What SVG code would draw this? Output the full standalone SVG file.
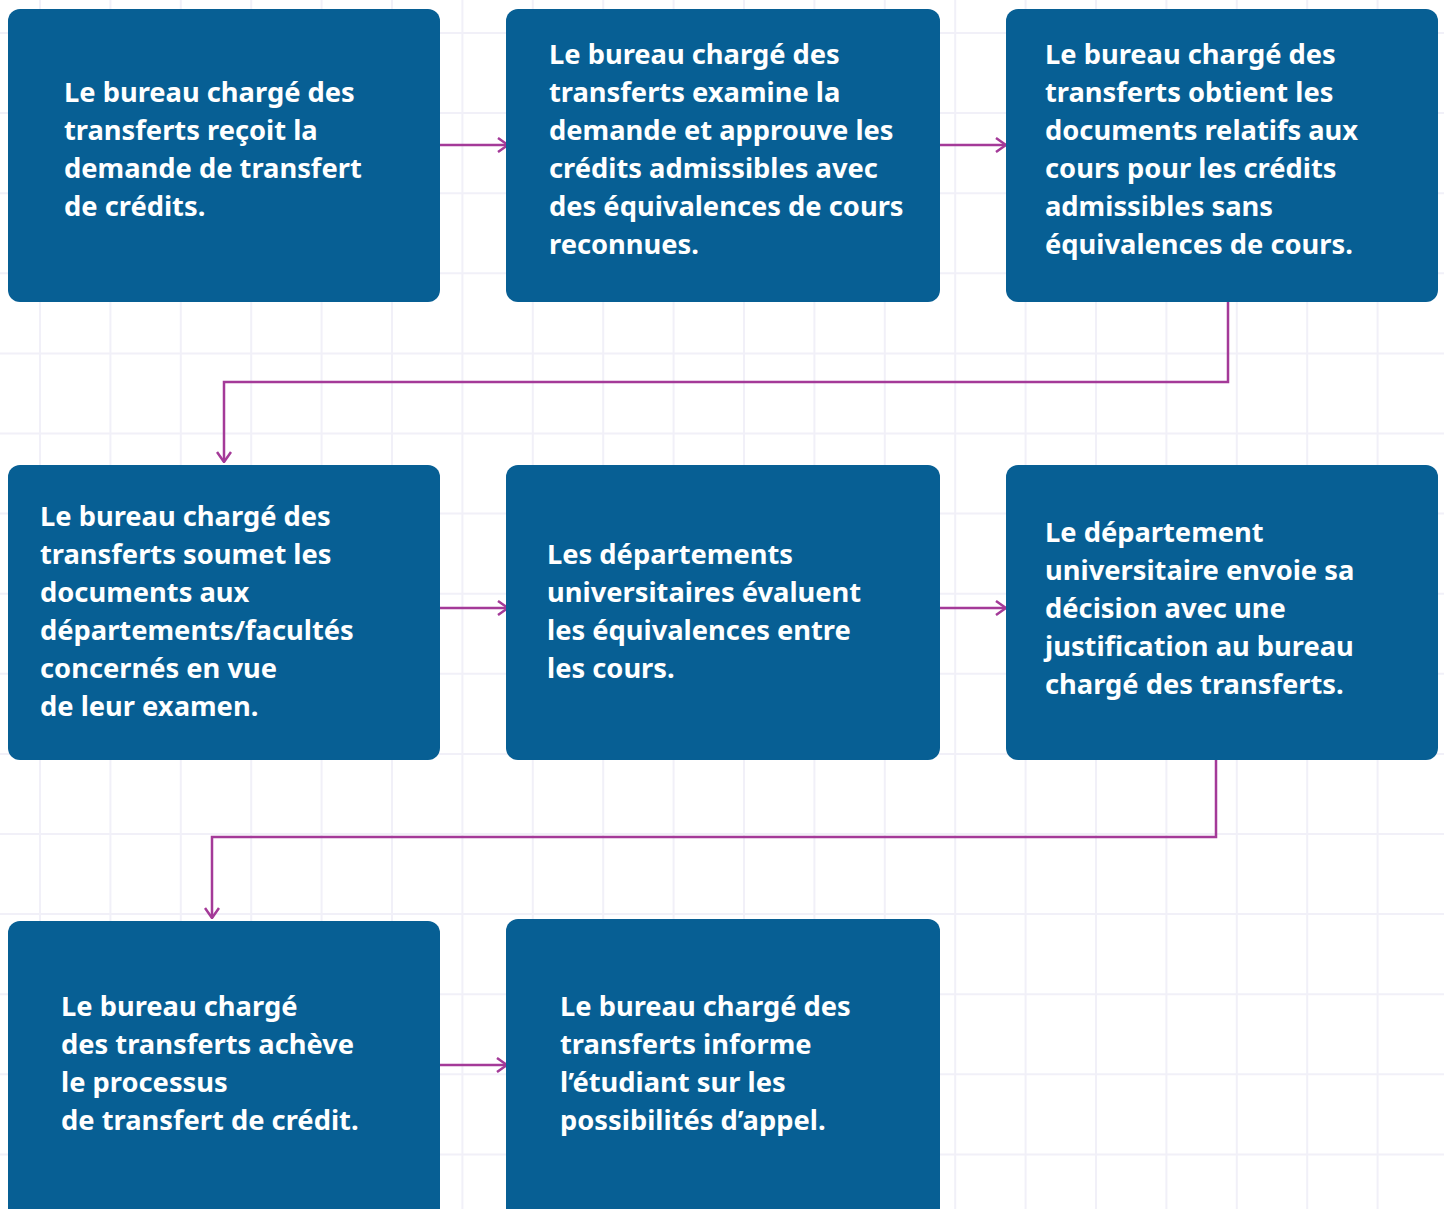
<svg xmlns="http://www.w3.org/2000/svg" width="1444" height="1209" viewBox="0 0 1444 1209">
<defs>
<style>
.box{fill:#075f94;}
.t{font-family:"Noto Sans","Open Sans","DejaVu Sans",sans-serif;font-weight:700;font-size:27.3px;fill:#ffffff;}
.c{fill:none;stroke:#a43a98;stroke-width:2.5;}
.g{stroke:#f1f0f8;stroke-width:2;}
</style>
<marker id="ah" viewBox="0 0 12 16" refX="11" refY="8" markerWidth="12" markerHeight="16" markerUnits="userSpaceOnUse" orient="auto">
<path d="M1,1 L11,8 L1,15" fill="none" stroke="#a43a98" stroke-width="2.5"/>
</marker>
</defs>
<rect width="1444" height="1209" fill="#ffffff"/>
<g id="grid" class="g">
<line x1="40" y1="0" x2="40" y2="1209"/><line x1="110.4" y1="0" x2="110.4" y2="1209"/><line x1="180.8" y1="0" x2="180.8" y2="1209"/><line x1="251.2" y1="0" x2="251.2" y2="1209"/><line x1="321.6" y1="0" x2="321.6" y2="1209"/><line x1="392" y1="0" x2="392" y2="1209"/><line x1="462.4" y1="0" x2="462.4" y2="1209"/><line x1="532.8" y1="0" x2="532.8" y2="1209"/><line x1="603.2" y1="0" x2="603.2" y2="1209"/><line x1="673.6" y1="0" x2="673.6" y2="1209"/><line x1="744" y1="0" x2="744" y2="1209"/><line x1="814.4" y1="0" x2="814.4" y2="1209"/><line x1="884.8" y1="0" x2="884.8" y2="1209"/><line x1="955.2" y1="0" x2="955.2" y2="1209"/><line x1="1025.6" y1="0" x2="1025.6" y2="1209"/><line x1="1096" y1="0" x2="1096" y2="1209"/><line x1="1166.4" y1="0" x2="1166.4" y2="1209"/><line x1="1236.8" y1="0" x2="1236.8" y2="1209"/><line x1="1307.2" y1="0" x2="1307.2" y2="1209"/><line x1="1377.6" y1="0" x2="1377.6" y2="1209"/>
<line x1="0" y1="33" x2="1444" y2="33"/><line x1="0" y1="113.1" x2="1444" y2="113.1"/><line x1="0" y1="193.2" x2="1444" y2="193.2"/><line x1="0" y1="273.3" x2="1444" y2="273.3"/><line x1="0" y1="353.4" x2="1444" y2="353.4"/><line x1="0" y1="433.5" x2="1444" y2="433.5"/><line x1="0" y1="513.6" x2="1444" y2="513.6"/><line x1="0" y1="593.7" x2="1444" y2="593.7"/><line x1="0" y1="673.8" x2="1444" y2="673.8"/><line x1="0" y1="753.9" x2="1444" y2="753.9"/><line x1="0" y1="834" x2="1444" y2="834"/><line x1="0" y1="914.1" x2="1444" y2="914.1"/><line x1="0" y1="994.2" x2="1444" y2="994.2"/><line x1="0" y1="1074.3" x2="1444" y2="1074.3"/><line x1="0" y1="1154.4" x2="1444" y2="1154.4"/>
</g>
<g id="connectors">
<line class="c" x1="440" y1="145" x2="508" y2="145" marker-end="url(#ah)"/>
<line class="c" x1="940" y1="145" x2="1006" y2="145" marker-end="url(#ah)"/>
<polyline class="c" points="1228,302 1228,382 224,382 224,462" marker-end="url(#ah)"/>
<line class="c" x1="440" y1="608" x2="508" y2="608" marker-end="url(#ah)"/>
<line class="c" x1="940" y1="608" x2="1006" y2="608" marker-end="url(#ah)"/>
<polyline class="c" points="1216,760 1216,837 212,837 212,918" marker-end="url(#ah)"/>
<line class="c" x1="440" y1="1065" x2="507" y2="1065" marker-end="url(#ah)"/>
</g>
<g id="n1"><rect class="box" x="8" y="9" width="432" height="293" rx="12"/>
<text class="t"><tspan x="64" y="102">Le bureau chargé des</tspan><tspan x="64" y="140">transferts reçoit la</tspan><tspan x="64" y="178">demande de transfert</tspan><tspan x="64" y="216">de crédits.</tspan></text></g>
<g id="n2"><rect class="box" x="506" y="9" width="434" height="293" rx="12"/>
<text class="t"><tspan x="549" y="64">Le bureau chargé des</tspan><tspan x="549" y="102">transferts examine la</tspan><tspan x="549" y="140">demande et approuve les</tspan><tspan x="549" y="178">crédits admissibles avec</tspan><tspan x="549" y="216">des équivalences de cours</tspan><tspan x="549" y="254">reconnues.</tspan></text></g>
<g id="n3"><rect class="box" x="1006" y="9" width="432" height="293" rx="12"/>
<text class="t"><tspan x="1045" y="64">Le bureau chargé des</tspan><tspan x="1045" y="102">transferts obtient les</tspan><tspan x="1045" y="140">documents relatifs aux</tspan><tspan x="1045" y="178">cours pour les crédits</tspan><tspan x="1045" y="216">admissibles sans</tspan><tspan x="1045" y="254">équivalences de cours.</tspan></text></g>
<g id="n4"><rect class="box" x="8" y="465" width="432" height="295" rx="12"/>
<text class="t"><tspan x="40" y="526">Le bureau chargé des</tspan><tspan x="40" y="564">transferts soumet les</tspan><tspan x="40" y="602">documents aux</tspan><tspan x="40" y="640">départements/facultés</tspan><tspan x="40" y="678">concernés en vue</tspan><tspan x="40" y="716">de leur examen.</tspan></text></g>
<g id="n5"><rect class="box" x="506" y="465" width="434" height="295" rx="12"/>
<text class="t"><tspan x="547" y="564">Les départements</tspan><tspan x="547" y="602">universitaires évaluent</tspan><tspan x="547" y="640">les équivalences entre</tspan><tspan x="547" y="678">les cours.</tspan></text></g>
<g id="n6"><rect class="box" x="1006" y="465" width="432" height="295" rx="12"/>
<text class="t"><tspan x="1045" y="542">Le département</tspan><tspan x="1045" y="580">universitaire envoie sa</tspan><tspan x="1045" y="618">décision avec une</tspan><tspan x="1045" y="656">justification au bureau</tspan><tspan x="1045" y="694">chargé des transferts.</tspan></text></g>
<g id="n7"><rect class="box" x="8" y="921" width="432" height="300" rx="12"/>
<text class="t"><tspan x="61" y="1016">Le bureau chargé</tspan><tspan x="61" y="1054">des transferts achève</tspan><tspan x="61" y="1092">le processus</tspan><tspan x="61" y="1130">de transfert de crédit.</tspan></text></g>
<g id="n8"><rect class="box" x="506" y="919" width="434" height="302" rx="12"/>
<text class="t"><tspan x="560" y="1016">Le bureau chargé des</tspan><tspan x="560" y="1054">transferts informe</tspan><tspan x="560" y="1092">l’étudiant sur les</tspan><tspan x="560" y="1130">possibilités d’appel.</tspan></text></g>
</svg>
